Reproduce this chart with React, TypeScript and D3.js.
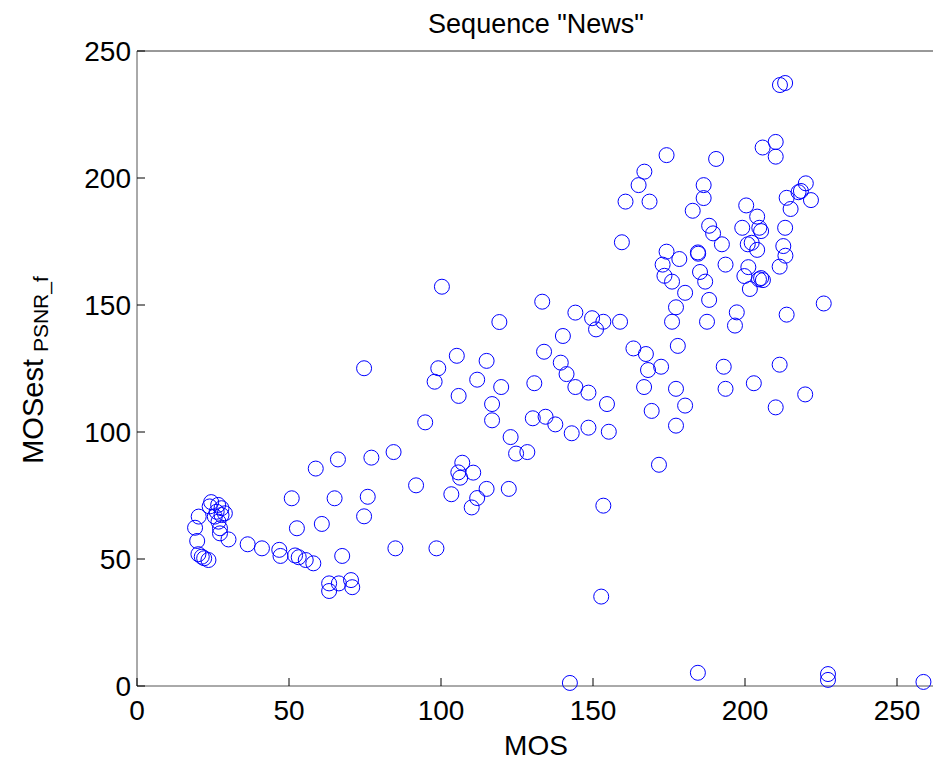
import React from "react";
import * as d3 from "d3";

// MOS (x) and estimated MOS from PSNR_f (y)
const mos = [
  19.1, 20.3, 19.8, 20.2, 21.3, 22.1, 23.5, 24.4, 23.9, 26.7, 27.8, 28.9, 26.2, 27.8, 25.6, 26.8,
  27.3, 27.3, 30.1, 36.4, 41.1, 46.8, 47.2, 50.9, 52.6, 52.0, 53.2, 55.5, 58.0, 60.8, 58.8, 63.2,
  63.2, 66.4, 70.4, 70.8, 67.5, 65.0, 66.1, 74.7, 75.9, 77.1, 74.7, 84.4, 85.0, 91.8, 94.8, 97.9,
  99.1, 98.5, 100.3, 103.4, 105.2, 105.8, 107.0, 105.7, 106.3, 110.6, 110.1, 111.9, 111.9, 115.0,
  115.0, 116.8, 116.8, 119.2, 119.8, 122.3, 122.9, 124.7, 128.4, 130.7, 130.2, 133.3, 133.9, 134.4,
  137.6, 139.4, 140.1, 141.3, 142.4, 143.0, 144.2, 144.2, 148.5, 148.5, 149.7, 151.0, 153.4, 152.7,
  153.4, 154.6, 155.2, 158.9, 159.5, 160.7, 163.3, 165.0, 166.9, 167.4, 168.6, 168.1, 166.8, 169.3,
  171.7, 172.4, 172.9, 173.5, 174.2, 174.2, 176.0, 176.0, 177.3, 177.3, 177.3, 177.9, 178.4, 180.3,
  180.3, 182.8, 184.5, 184.6, 184.5, 185.2, 186.9, 186.4, 186.4, 187.5, 188.2, 188.2, 189.5, 190.5,
  192.4, 193.0, 193.6, 193.6, 196.7, 197.3, 199.1, 199.8, 200.4, 200.9, 201.1, 201.6, 202.2, 202.9,
  204.0, 204.0, 204.7, 205.3, 204.6, 205.3, 205.9, 205.8, 210.1, 210.1, 210.1, 211.4, 211.4, 211.5,
  213.2, 212.6, 213.3, 213.2, 213.7, 213.7, 215.0, 217.6, 218.4, 220.0, 221.7, 219.8, 225.9, 227.3,
  227.3, 258.7,
];
const mosEst = [
  62.3, 66.7, 57.1, 51.9, 50.9, 50.3, 49.6, 72.4, 70.7, 71.3, 70.0, 68.0, 68.6, 67.3, 66.7, 64.7,
  62.1, 60.1, 57.7, 55.8, 54.2, 53.6, 51.2, 73.9, 62.1, 51.4, 50.7, 49.6, 48.3, 63.8, 85.6, 40.4,
  37.4, 40.4, 41.7, 38.9, 51.2, 73.9, 89.2, 66.8, 74.5, 89.9, 125.1, 92.1, 54.2, 79.0, 103.8, 119.8,
  125.1, 54.2, 157.2, 75.5, 130.0, 114.2, 87.9, 84.1, 82.0, 84.0, 70.3, 74.0, 120.6, 128.0,
  77.6, 111.0, 104.6, 143.3, 117.7, 77.6, 98.0, 91.5, 92.1, 119.2, 105.4, 151.3, 131.6, 106.0,
  103.0, 127.3, 137.8, 122.8, 1.2, 99.5, 147.0, 117.7, 115.5, 101.7, 144.8, 140.4, 143.4, 35.2,
  71.0, 111.0, 100.1, 143.4, 174.7, 190.7, 132.9, 197.2, 202.5, 130.7, 190.7, 124.4, 117.7, 108.3,
  87.1, 125.7, 165.9, 161.5, 171.0, 209.0, 159.2, 143.4, 149.1, 117.0, 102.5, 133.9, 168.1, 154.8,
  110.4, 187.1, 170.7, 170.2, 5.2, 163.0, 159.2, 197.2, 192.1, 143.4, 181.2, 152.0, 178.2, 207.5,
  173.9, 125.7, 117.0, 165.9, 141.9, 147.1, 180.4, 161.4, 189.2, 173.9, 164.9, 156.3, 174.5, 119.2,
  184.8, 171.7, 180.4, 179.1, 160.1, 160.6, 159.8, 212.0, 214.2, 208.4, 109.7, 165.1, 126.5, 236.6,
  237.4, 173.2, 169.4, 180.4, 192.2, 146.2, 187.8, 194.4, 194.9, 197.9, 191.3, 114.8, 150.6, 4.7,
  2.4, 1.6,
];
const tickValues = [0, 50, 100, 150, 200, 250];

const W = 933;
const H = 760;
const left = 137;
const right = 935;
const top = 51;
const bottom = 686;
const font = "Arial, 'Liberation Sans', Helvetica, sans-serif";

export default function App() {
  const x = d3.scaleLinear().domain([0, 262.5]).range([left, right]);
  const y = d3.scaleLinear().domain([0, 250]).range([bottom, top]);
  const tickLen = 8;

  return (
    <svg
      width={W}
      height={H}
      style={{ position: "absolute", left: 0, top: 0, background: "#fff" }}
      fontFamily={font}
    >
      <rect x={0} y={0} width={W} height={H} fill="#fff" />
      <text x={536} y={33} textAnchor="middle" fontSize={27} fill="#000">
        Sequence "News"
      </text>

      {/* frame */}
      <line x1={left} x2={right} y1={top} y2={top} stroke="#333" />
      <line x1={left} x2={left} y1={top} y2={bottom} stroke="#555" />
      <line x1={left} x2={right} y1={bottom} y2={bottom} stroke="#555" />

      {/* x ticks */}
      {tickValues.map((t) => (
        <g key={"x" + t}>
          <line x1={x(t)} x2={x(t)} y1={bottom} y2={bottom - tickLen} stroke="#000" />
          <text x={x(t)} y={720} textAnchor="middle" fontSize={28} fill="#000">
            {t}
          </text>
        </g>
      ))}
      {/* y ticks */}
      {tickValues.map((t) => (
        <g key={"y" + t}>
          <line x1={left} x2={left + tickLen} y1={y(t)} y2={y(t)} stroke="#000" />
          <text x={left - 6} y={y(t) + 10} textAnchor="end" fontSize={28} fill="#000">
            {t}
          </text>
        </g>
      ))}

      <text x={536} y={755} textAnchor="middle" fontSize={28} fill="#000">
        MOS
      </text>
      <text transform="translate(43,370) rotate(-90)" textAnchor="middle" fontSize={29} fill="#000">
        MOSest
        <tspan fontSize={21} dx={7} dy={5}>PSNR_f</tspan>
      </text>

      <g>
        {mos.map((m, i) => (
          <circle
            key={i}
            cx={x(m)}
            cy={y(mosEst[i])}
            r={7.5}
            fill="none"
            stroke="#0000ff"
            strokeWidth={1}
          />
        ))}
      </g>
    </svg>
  );
}
